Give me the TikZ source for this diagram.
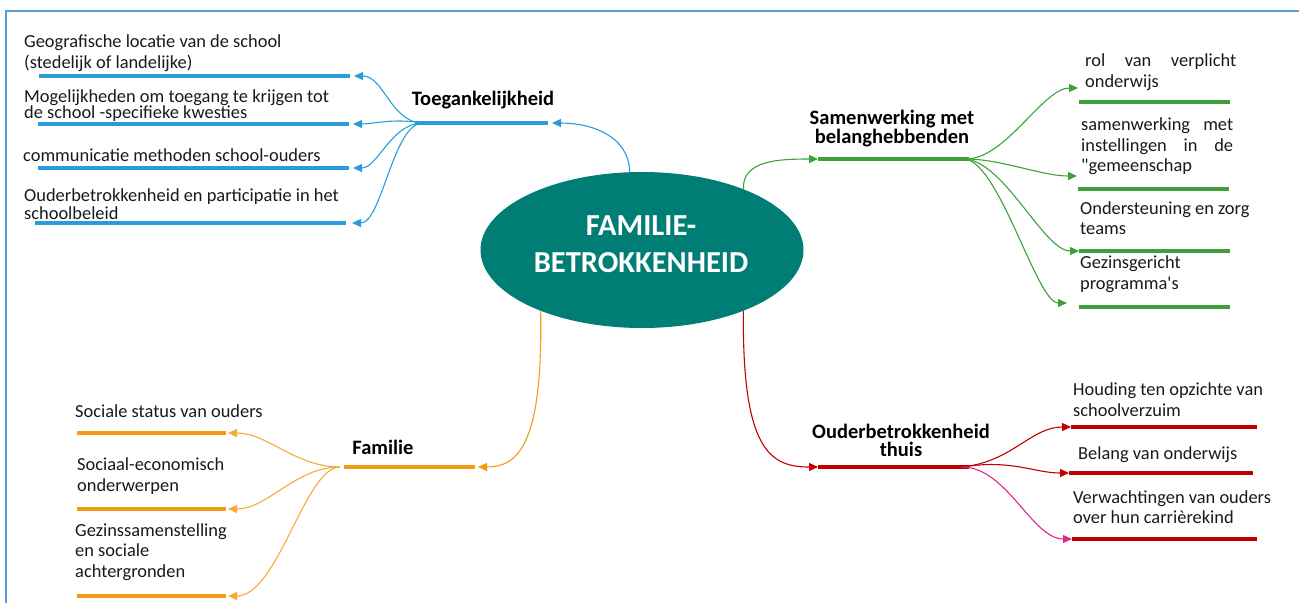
\documentclass[tikz,border=0pt]{standalone}
\usepackage{fontspec}
\setmainfont{Carlito}
\usepackage{xcolor}
\usepackage{tikz}
\usetikzlibrary{arrows.meta,shapes.geometric,positioning}

\definecolor{hubteal}{RGB}{0,125,117}
\definecolor{accblue}{RGB}{41,157,218}
\definecolor{coopgreen}{RGB}{62,160,58}
\definecolor{famorange}{RGB}{243,156,18}
\definecolor{homered}{RGB}{192,0,0}
\definecolor{homepink}{RGB}{222,40,140}
\definecolor{framecol}{RGB}{91,155,213}
\definecolor{inkgray}{RGB}{25,25,25}

\tikzset{
  leaf/.style={anchor=west, inner sep=0pt, align=left, text=inkgray,
    font=\fontsize{18.4}{20.5}\selectfont},
  branch/.style={inner sep=0pt, align=center, text=black,
    font=\bfseries\fontsize{20.5}{17}\selectfont},
  bar/.style={line width=4pt},
  link/.style={line width=1.1pt, -{Triangle[length=9pt,width=8pt]}},
}

\begin{document}
\begin{tikzpicture}[x=1pt,y=-1pt]
    \useasboundingbox (0,0) rectangle (1299,603);
    % frame
    \draw[framecol, line width=2pt] (6,603) -- (6,11) -- (1299,11);

    % centre
    \node[ellipse, fill=hubteal, minimum width=323pt, minimum height=156pt] (core) at (642,250) {};
    \node[text=white, align=center, font=\bfseries\fontsize{30.5}{37}\selectfont] (coretext) at (641,244) {FAMILIE-\\BETROKKENHEID};

    % Toegankelijkheid
    \node[branch] (acc) at (483,100) {Toegankelijkheid};
    \coordinate (acc w) at (415,123);
    \coordinate (acc e) at (548,123);
    \coordinate (acc in) at (552,123);
    \coordinate (acc hub) at (423,123);
    \draw[bar, accblue] (acc w) -- (acc e);
    \draw[link, accblue] (core.99) .. controls (629,135) and (590,123) .. (acc in);

    \node[leaf] (acc1) at (24,53) {Geografische locatie van de school\\(stedelijk of landelijke)};
    \node[leaf, font=\fontsize{18.4}{16}\selectfont] (acc2) at (24,105.5) {Mogelijkheden om toegang te krijgen tot\\de school -specifieke kwesties};
    \node[leaf] (acc3) at (23,155) {communicatie methoden school-ouders};
    \node[leaf, font=\fontsize{18.4}{18}\selectfont] (acc4) at (24,204) {Ouderbetrokkenheid en participatie in het\\schoolbeleid};
    \draw[bar, accblue] (39,76) coordinate (acc1 s) -- (350,76) coordinate (acc1 e);
    \draw[bar, accblue] (38,124) coordinate (acc2 s) -- (349,124) coordinate (acc2 e);
    \draw[bar, accblue] (38,168) coordinate (acc3 s) -- (349,168) coordinate (acc3 e);
    \draw[bar, accblue] (35,223) coordinate (acc4 s) -- (346,223) coordinate (acc4 e);
    \draw[link, accblue] (acc hub) .. controls +(-32,0) and +(30,0) .. ([xshift=4pt]acc1 e);
    \draw[link, accblue] (acc hub) .. controls +(-30,-5) and +(20,0) .. ([xshift=4pt]acc2 e);
    \draw[link, accblue] (acc hub) .. controls +(-32,0) and +(25,0) .. ([xshift=4pt]acc3 e);
    \draw[link, accblue] (acc hub) .. controls +(-30,0) and +(30,0) .. ([xshift=6pt]acc4 e);

    % Samenwerking met belanghebbenden
    \node[branch] (coop) at (892,128.5) {Samenwerking met\\belanghebbenden};
    \coordinate (coop w) at (818,159);
    \coordinate (coop e) at (969,159);
    \coordinate (coop hub) at (966,159);
    \draw[bar, coopgreen] (coop w) -- (coop e);
    \draw[link, coopgreen] (core.31) .. controls (742,160) and (780,159) .. (coop w);

    \node[leaf] (coop1) at (1085,72) {\makebox[151pt][s]{rol van verplicht}\\onderwijs};
    \node[leaf] (coop2) at (1081,146.5) {\makebox[152pt][s]{samenwerking met}\\\makebox[152pt][s]{instellingen in de}\\\textquotedbl gemeenschap};
    \node[leaf] (coop3) at (1080,218) {Ondersteuning en zorg\\teams};
    \node[leaf] (coop4) at (1080,274) {Gezinsgericht\\programma\textquotesingle s};
    \draw[bar, coopgreen] (1079,102) -- (1230,102);
    \draw[bar, coopgreen] (1078,189) -- (1229,189);
    \draw[bar, coopgreen] (1079,251) coordinate (coop3 s) -- (1230,251);
    \draw[bar, coopgreen] (1079,307) -- (1230,307);
    \coordinate (coop1 in) at (1078,88);
    \coordinate (coop2 in) at (1077,176);
    \coordinate (coop4 in) at (1067,303);
    \draw[link, coopgreen] (coop hub) .. controls +(40,0) and +(-35,0) .. (coop1 in);
    \draw[link, coopgreen] (coop hub) .. controls +(35,0) and +(-35,0) .. (coop2 in);
    \draw[link, coopgreen] (coop hub) .. controls +(40,5) and +(-35,0) .. (coop3 s);
    \draw[link, coopgreen] (coop hub) .. controls +(35,8) and +(-30,0) .. (coop4 in);

    % Familie
    \node[branch] (fam) at (383,447) {Familie};
    \coordinate (fam w) at (344,467);
    \coordinate (fam e) at (475,467);
    \coordinate (fam in) at (478,467);
    \coordinate (fam hub) at (340,467);
    \draw[bar, famorange] (fam w) -- (fam e);
    \draw[link, famorange] (core.-149) .. controls (543,445) and (518,467) .. (fam in);

    \node[leaf] (fam1) at (75,411) {Sociale status van ouders};
    \node[leaf] (fam2) at (77,476) {Sociaal-economisch\\onderwerpen};
    \node[leaf] (fam3) at (75,552) {Gezinssamenstelling\\en sociale\\achtergronden};
    \draw[bar, famorange] (77,433) -- (226,433) coordinate (fam1 e);
    \draw[bar, famorange] (77,509) -- (226,509) coordinate (fam2 e);
    \draw[bar, famorange] (77,596) -- (226,596) coordinate (fam3 e);
    \draw[link, famorange!85] (fam hub) .. controls +(-45,0) and +(40,0) .. ([xshift=2pt]fam1 e);
    \draw[link, famorange!85] (fam hub) .. controls +(-45,0) and +(40,0) .. ([xshift=2pt]fam2 e);
    \draw[link, famorange!85] (fam hub) .. controls +(-35,0) and +(50,0) .. ([xshift=2pt]fam3 e);

    % Ouderbetrokkenheid thuis
    \node[branch, font=\bfseries\fontsize{20.5}{18}\selectfont] (home) at (901,440) {Ouderbetrokkenheid\\thuis};
    \coordinate (home w) at (818,467);
    \coordinate (home e) at (969,467);
    \coordinate (home hub) at (962,467);
    \draw[bar, homered] (home w) -- (home e);
    \draw[link, homered] (core.-31) .. controls (742,450) and (770,467) .. (home w);

    \node[leaf] (home1) at (1073,399.5) {Houding ten opzichte van\\schoolverzuim};
    \node[leaf] (home2) at (1078,455) {Belang van onderwijs};
    \node[leaf] (home3) at (1073,507) {Verwachtingen van ouders\\over hun carrièrekind};
    \draw[bar, homered] (1071,427) coordinate (home1 s) -- (1257,427);
    \draw[bar, homered] (1069,473) coordinate (home2 s) -- (1253,473);
    \draw[bar, homered] (1072,539) coordinate (home3 s) -- (1257,539);
    \draw[link, homered] (home hub) .. controls +(50,-5) and +(-40,0) .. (home1 s);
    \draw[link, homered] (home hub) .. controls +(50,-8) and +(-35,0) .. (home2 s);
    \draw[link, homepink] (home hub) .. controls +(45,0) and +(-40,0) .. (home3 s);
\end{tikzpicture}
\end{document}
